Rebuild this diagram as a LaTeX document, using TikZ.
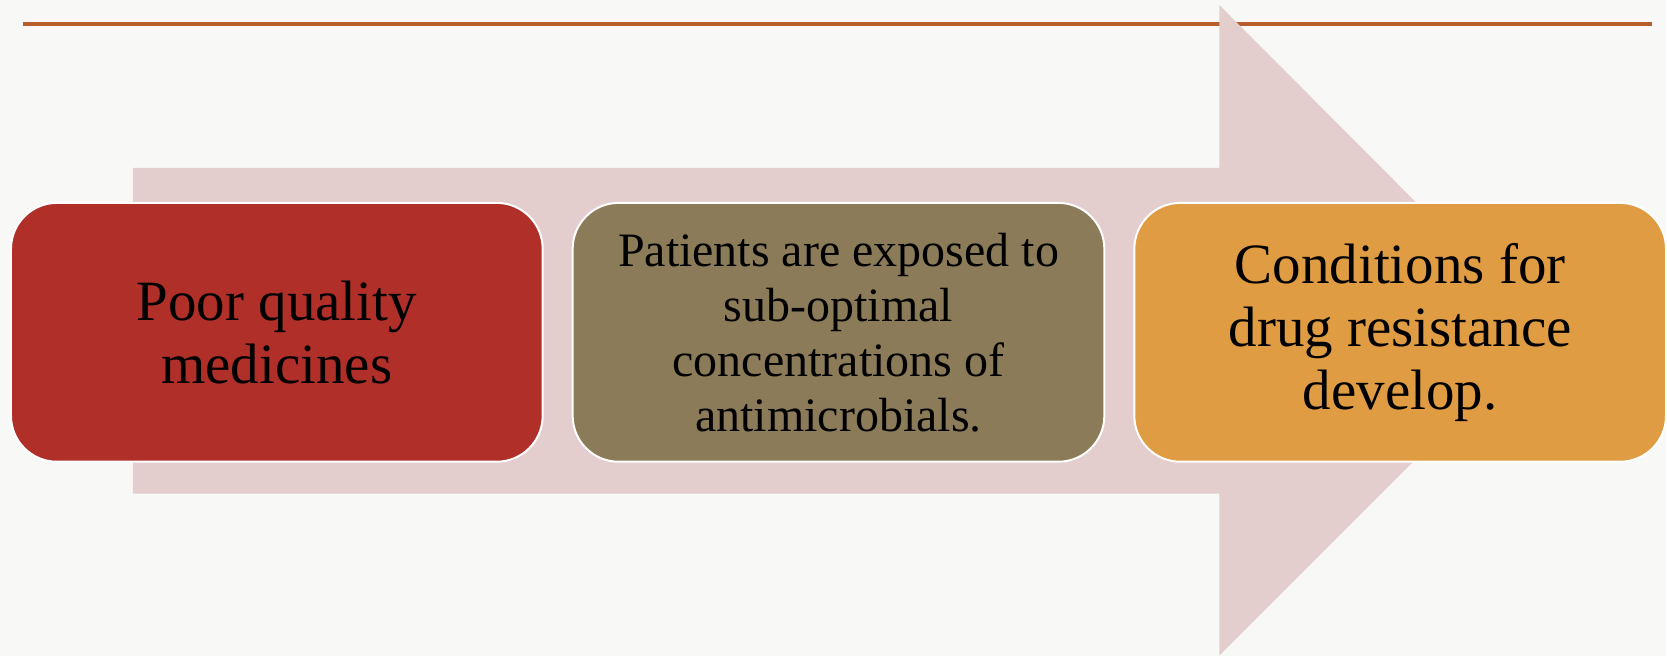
\documentclass[tikz,border=0pt]{standalone}
\usepackage{fontspec}
\setmainfont{Liberation Serif}
\usepackage{xcolor}
\usetikzlibrary{positioning}

\definecolor{paper}{HTML}{F8F8F7}
\definecolor{rulecol}{HTML}{B85C2C}
\definecolor{flowcol}{HTML}{E3CDCD}
\definecolor{causecol}{HTML}{B03029}
\definecolor{effectcol}{HTML}{8B7B58}
\definecolor{resultcol}{HTML}{E09C42}

\begin{document}
\begin{tikzpicture}[
      x=1pt, y=-1pt,
      stage/.style={draw=white, line width=2pt, rounded corners=46pt, align=center,
        minimum width=532pt, minimum height=259pt, inner sep=0pt, text=black},
      big/.style={font=\fontsize{57pt}{63pt}\selectfont},
      small/.style={font=\fontsize{48pt}{55pt}\selectfont},
    ]
    % page and header rule
    \fill[paper] (0,0) rectangle (1667,656);
    \draw[rulecol, line width=3.5pt] (23,24) -- (1653,24);

    % the big background arrow
    \fill[flowcol] (133,168) -- (1220,168) -- (1220,5) -- (1545,331)
      -- (1220,656) -- (1220,494) -- (133,494) -- cycle;

    \node[stage, big, fill=causecol, anchor=north west] (poor) at (10,202)
      {Poor quality\\medicines};
    \node[stage, small, fill=effectcol, right=28pt of poor] (exposed)
      {Patients are exposed to\\sub-optimal\\concentrations of\\antimicrobials.};
    \node[stage, big, fill=resultcol, right=28pt of exposed] (resist)
      {Conditions for\\drug resistance\\develop.};
  \end{tikzpicture}
\end{document}
